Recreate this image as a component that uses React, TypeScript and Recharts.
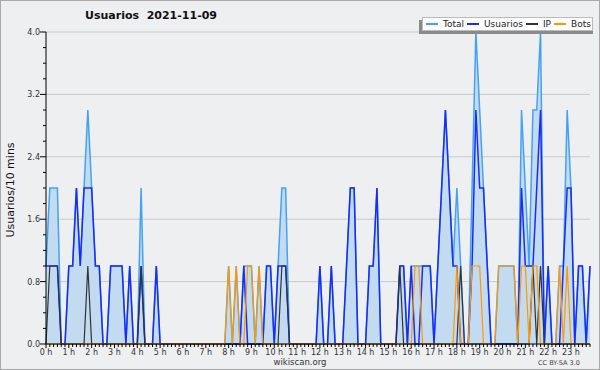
import { ComposedChart, Area, Line, XAxis, YAxis, CartesianGrid } from 'recharts'

// one value per 10 minutes, 144 slots for the day
const totalSeries = [
  1, 2, 2, 2, 0, 0, 1, 1, 2, 1, 2, 3,
  2, 1, 1, 0, 0, 1, 1, 1, 1, 0, 1, 0,
  0, 2, 0, 0, 0, 1, 0, 0, 0, 0, 0, 0,
  0, 0, 0, 0, 0, 0, 0, 0, 0, 0, 0, 0,
  1, 0, 1, 0, 1, 1, 1, 0, 1, 0, 1, 1,
  0, 1, 2, 2, 0, 0, 0, 0, 0, 0, 0, 0,
  1, 0, 0, 1, 0, 0, 0, 1, 2, 2, 0, 0,
  0, 1, 1, 2, 0, 0, 0, 0, 0, 1, 1, 0,
  1, 1, 1, 1, 1, 1, 0, 1, 2, 3, 2, 1,
  2, 1, 0, 0, 2, 4, 3, 2, 1, 0, 0, 1,
  1, 1, 1, 1, 0, 3, 2, 1, 3, 3, 4, 0,
  1, 0, 0, 1, 1, 3, 2, 0, 1, 1, 0, 1,
]

const usuariosSeries = [
  1, 1, 1, 1, 0, 0, 1, 1, 2, 1, 2, 2,
  2, 1, 1, 0, 0, 1, 1, 1, 1, 0, 1, 0,
  0, 1, 0, 0, 0, 1, 0, 0, 0, 0, 0, 0,
  0, 0, 0, 0, 0, 0, 0, 0, 0, 0, 0, 0,
  0, 0, 0, 0, 1, 0, 0, 0, 0, 0, 1, 1,
  0, 1, 1, 1, 0, 0, 0, 0, 0, 0, 0, 0,
  1, 0, 0, 1, 0, 0, 0, 1, 2, 2, 0, 0,
  0, 1, 1, 2, 0, 0, 0, 0, 0, 1, 1, 0,
  1, 0, 0, 1, 1, 1, 0, 1, 2, 3, 2, 1,
  1, 0, 0, 0, 1, 3, 2, 2, 1, 0, 0, 0,
  0, 0, 0, 0, 0, 2, 1, 1, 1, 2, 3, 0,
  1, 0, 0, 0, 1, 2, 2, 0, 1, 1, 0, 1,
]

const ipSeries = [
  0, 1, 1, 1, 0, 0, 0, 0, 0, 0, 0, 1,
  0, 0, 0, 0, 0, 0, 0, 0, 0, 0, 0, 0,
  0, 1, 0, 0, 0, 0, 0, 0, 0, 0, 0, 0,
  0, 0, 0, 0, 0, 0, 0, 0, 0, 0, 0, 0,
  0, 0, 0, 0, 0, 0, 0, 0, 0, 0, 0, 0,
  0, 0, 1, 1, 0, 0, 0, 0, 0, 0, 0, 0,
  0, 0, 0, 0, 0, 0, 0, 0, 0, 0, 0, 0,
  0, 0, 0, 0, 0, 0, 0, 0, 0, 1, 0, 0,
  0, 0, 0, 0, 0, 0, 0, 0, 0, 0, 0, 0,
  0, 1, 0, 0, 0, 0, 0, 0, 0, 0, 0, 0,
  0, 0, 0, 0, 0, 0, 0, 0, 1, 0, 1, 0,
  0, 0, 0, 0, 0, 0, 0, 0, 0, 0, 0, 0,
]

const botsSeries = [
  0, 0, 0, 0, 0, 0, 0, 0, 0, 0, 0, 0,
  0, 0, 0, 0, 0, 0, 0, 0, 0, 0, 0, 0,
  0, 0, 0, 0, 0, 0, 0, 0, 0, 0, 0, 0,
  0, 0, 0, 0, 0, 0, 0, 0, 0, 0, 0, 0,
  1, 0, 1, 0, 0, 1, 1, 0, 1, 0, 0, 0,
  0, 0, 0, 0, 0, 0, 0, 0, 0, 0, 0, 0,
  0, 0, 0, 0, 0, 0, 0, 0, 0, 0, 0, 0,
  0, 0, 0, 0, 0, 0, 0, 0, 0, 0, 0, 0,
  0, 1, 1, 0, 0, 0, 0, 0, 0, 0, 0, 0,
  1, 0, 0, 0, 1, 1, 1, 0, 0, 0, 0, 1,
  1, 1, 1, 1, 0, 1, 1, 0, 1, 1, 0, 0,
  0, 0, 0, 1, 0, 1, 0, 0, 0, 0, 0, 0,
]

const hourLabels = [
  '0 h', '1 h', '2 h', '3 h', '4 h', '5 h', '6 h', '7 h', '8 h', '9 h', '10 h', '11 h',
  '12 h', '13 h', '14 h', '15 h', '16 h', '17 h', '18 h', '19 h', '20 h', '21 h', '22 h', '23 h',
]

const yTicks = [0, 0.2, 0.4, 0.6, 0.8, 1, 1.2, 1.4, 1.6, 1.8, 2, 2.2, 2.4, 2.6, 2.8, 3, 3.2, 3.4, 3.6, 3.8, 4]
const yMajor = [0, 0.8, 1.6, 2.4, 3.2, 4]

const legendItems = [
  { name: 'Total', color: '#45a2f2' },
  { name: 'Usuarios', color: '#1a2cf5' },
  { name: 'IP', color: '#333333' },
  { name: 'Bots', color: '#ff9900' },
]

const rows = totalSeries.map((t, i) => ({
  slot: i,
  Total: t,
  Usuarios: usuariosSeries[i],
  IP: ipSeries[i],
  Bots: botsSeries[i],
}))
const slotTicks = rows.map(r => r.slot)

const FONT = "'DejaVu Sans', sans-serif"

const XTick = ({ x, y, payload }: any) => {
  const v = payload.value
  const isHour = v % 6 === 0
  return (
    <g>
      <line x1={x} x2={x} y1={y} y2={y + (isHour ? 4 : 3)} stroke="#000" />
      {isHour && (
        <text x={x} y={y + 11} textAnchor="middle" fontSize={8} fill="#333" fontFamily={FONT}>
          {hourLabels[v / 6]}
        </text>
      )}
    </g>
  )
}

const YTick = ({ x, y, payload }: any) => {
  const v = payload.value
  const major = yMajor.some(m => Math.abs(m - v) < 1e-6)
  return (
    <g>
      <line x1={x - (major ? 6 : 3)} x2={x} y1={y} y2={y} stroke="#000" />
      {major && (
        <text x={x - 6} y={y + 3} textAnchor="end" fontSize={8} fill="#333" fontFamily={FONT}>
          {v.toFixed(1)}
        </text>
      )}
    </g>
  )
}

export default function App() {
  return (
    <div style={{ position: 'absolute', left: 0, top: 0, width: 600, height: 370, background: '#eeeff1', fontFamily: FONT }}>
      <ComposedChart width={600} height={370} data={rows} margin={{ top: 32, right: 10, bottom: 6, left: 0 }}>
        <CartesianGrid vertical={false} horizontalValues={yMajor} stroke="#c9c9c9" />
        <XAxis
          dataKey="slot"
          type="number"
          domain={[0, 143]}
          ticks={slotTicks}
          interval={0}
          height={20}
          tickSize={0}
          tickMargin={0}
          tickLine={false}
          axisLine={{ stroke: '#000' }}
          tick={<XTick />}
        />
        <YAxis
          type="number"
          domain={[0, 4]}
          ticks={yTicks}
          interval={0}
          width={46}
          tickSize={0}
          tickMargin={0}
          tickLine={false}
          axisLine={{ stroke: '#000' }}
          tick={<YTick />}
        />
        <Area type="linear" dataKey="Total" stroke="#45a2f2" strokeWidth={1.5} fill="#c3dbf1" fillOpacity={1} isAnimationActive={false} />
        <Line type="linear" dataKey="Usuarios" stroke="#1a2cf5" strokeWidth={1.5} dot={false} isAnimationActive={false} />
        <Line type="linear" dataKey="IP" stroke="#333333" strokeWidth={1.2} dot={false} isAnimationActive={false} />
        <Line type="linear" dataKey="Bots" stroke="#ff9900" strokeWidth={1.2} dot={false} isAnimationActive={false} />
      </ComposedChart>

      <div style={{ position: 'absolute', left: 0, top: 9, width: 302, textAlign: 'center', fontSize: 11, fontWeight: 'bold', color: '#111', whiteSpace: 'pre' }}>
        {'Usuarios  2021-11-09'}
      </div>

      <div style={{ position: 'absolute', left: 10, top: 190, fontSize: 11, color: '#111', whiteSpace: 'nowrap', transform: 'translate(-50%, -50%) rotate(-90deg)' }}>
        Usuarios/10 mins
      </div>

      <div style={{ position: 'absolute', left: 419, top: 20, width: 174, height: 14, background: '#8a8a8a' }} />
      <div style={{ position: 'absolute', left: 422, top: 17, width: 171, height: 14, background: '#fff', border: '1px solid #bbb', boxSizing: 'border-box', display: 'flex', alignItems: 'center', fontSize: 9, color: '#222', whiteSpace: 'nowrap', overflow: 'hidden' }}>
        {legendItems.map(item => (
          <div key={item.name} style={{ display: 'flex', alignItems: 'center', marginLeft: 3 }}>
            <span style={{ display: 'inline-block', width: 12, height: 1.5, background: item.color, marginRight: 5 }} />
            <span>{item.name}</span>
          </div>
        ))}
      </div>

      <div style={{ position: 'absolute', left: 0, top: 357, width: 600, textAlign: 'center', fontSize: 8.5, color: '#333' }}>
        wikiscan.org
      </div>
      <div style={{ position: 'absolute', left: 538, top: 359, fontSize: 6.5, color: '#444' }}>
        CC BY-SA 3.0
      </div>
      <div style={{ position: 'absolute', left: 0, top: 0, width: 600, height: 370, border: '1px solid #a9a9a9', boxSizing: 'border-box', pointerEvents: 'none' }} />
    </div>
  )
}
